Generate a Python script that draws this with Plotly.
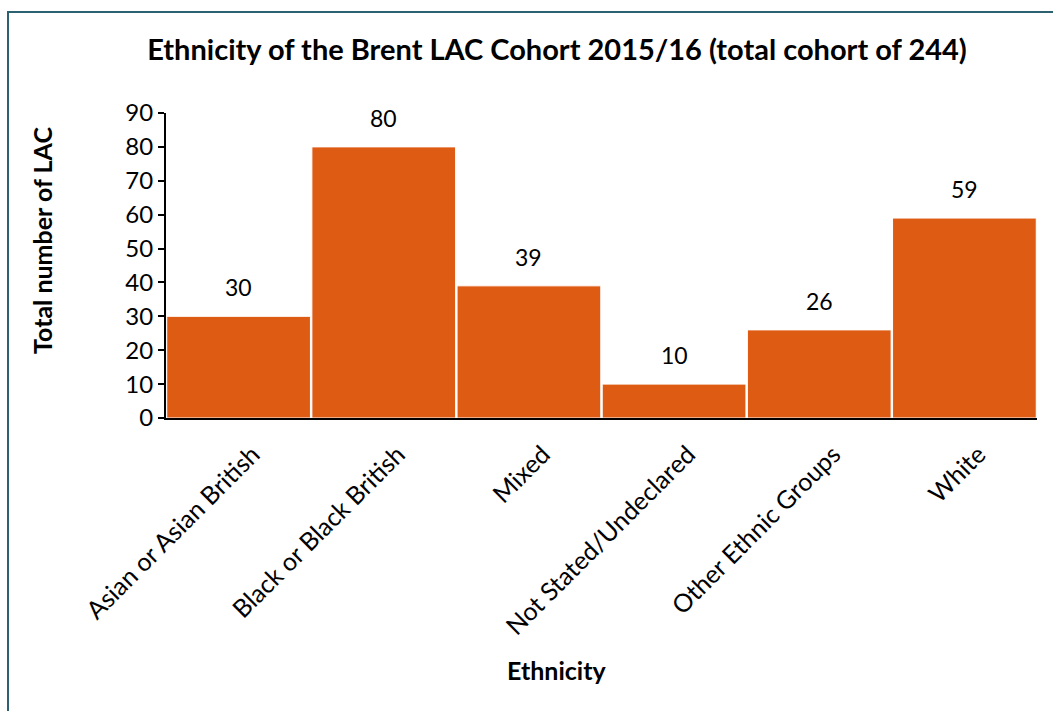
import plotly.graph_objects as go

# Looked-after children by ethnic group, Brent 2015/16
categories = [
    "Asian or Asian British",
    "Black or Black British",
    "Mixed",
    "Not Stated/Undeclared",
    "Other Ethnic Groups",
    "White",
]
counts = [30, 80, 39, 10, 26, 59]
y_ticks = [0, 10, 20, 30, 40, 50, 60, 70, 80, 90]

BAR_COLOR = "#DE5B13"
FONT = "Lato"

fig = go.Figure(
    go.Bar(
        x=categories,
        y=counts,
        marker=dict(color=BAR_COLOR, line=dict(color="white", width=1)),
        hoverinfo="x+y",
    )
)

# value labels above each bar
for cat, val in zip(categories, counts):
    fig.add_annotation(
        x=cat, y=val, text=str(val), showarrow=False,
        yshift=29, font=dict(family=FONT, size=23, color="black"),
    )

# axis titles, placed in paper coordinates
fig.add_annotation(
    x=-0.1424, y=0.5836, xref="paper", yref="paper",
    text="<b>Total number of LAC</b>", textangle=-90, showarrow=False,
    xanchor="center", yanchor="middle",
    font=dict(family=FONT, size=25, color="black"),
)
fig.add_annotation(
    x=0.4489, y=-0.826, xref="paper", yref="paper",
    text="<b>Ethnicity</b>", showarrow=False,
    xanchor="center", yanchor="middle",
    font=dict(family=FONT, size=25, color="black"),
)

fig.update_layout(
    width=1053,
    height=711,
    margin=dict(l=166, r=16, t=113, b=293),
    paper_bgcolor="white",
    plot_bgcolor="white",
    bargap=0.01,
    showlegend=False,
    font=dict(family=FONT, color="black"),
    title=dict(
        text="<b>Ethnicity of the Brent LAC Cohort 2015/16 (total cohort of 244)</b>",
        x=0.529, xanchor="center", y=0.93, yanchor="middle",
        font=dict(family=FONT, size=29, color="black"),
    ),
    xaxis=dict(
        tickangle=-45,
        tickfont=dict(family=FONT, size=25, color="black"),
        ticklabelstandoff=10,
        ticklabelshift=14,
        showline=True, linecolor="black", linewidth=2,
        ticks="", showgrid=False, automargin=False,
    ),
    yaxis=dict(
        range=[0, 90],
        tickvals=y_ticks,
        tickfont=dict(family=FONT, size=24, color="black"),
        showline=True, linecolor="black", linewidth=2,
        ticks="outside", ticklen=6, tickcolor="black", tickwidth=2,
        showgrid=False, zeroline=False, automargin=False,
    ),
    shapes=[
        dict(
            type="rect", xref="paper", yref="paper",
            x0=-0.1814, x1=1.2, y0=-1.2, y1=1.331,
            line=dict(color="#2B6171", width=2), fillcolor="rgba(0,0,0,0)",
            layer="below",
        )
    ],
)

fig.write_html("out.html")
